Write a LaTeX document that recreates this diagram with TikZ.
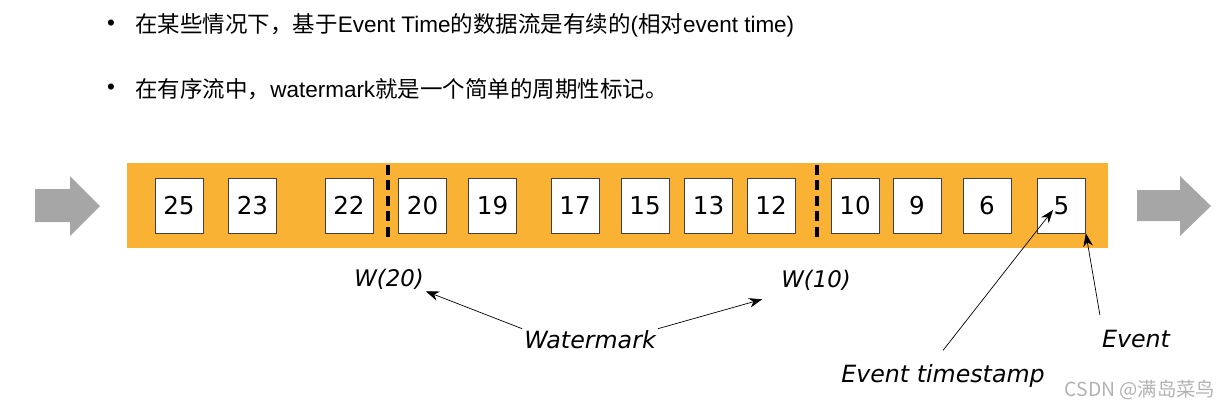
\documentclass[tikz,border=0pt]{standalone}
\usepackage{fontspec}
\setmainfont{Liberation Sans}
\newfontfamily\cjk{Noto Sans CJK SC}
\newfontfamily\verd{DejaVu Sans}
\usetikzlibrary{arrows.meta}
\definecolor{band}{HTML}{F9B233}
\definecolor{flow}{HTML}{A6A6A6}
\tikzset{
  evbox/.style={draw=black!75, fill=white, minimum width=0.96cm, minimum height=1.1cm, inner sep=0pt, font=\verd\fontsize{14}{14}\selectfont},
  lbl/.style={font=\verd\itshape\fontsize{13.5}{14}\selectfont, inner sep=1pt},
  wline/.style={line width=2.1pt, dash pattern=on 0.2cm off 0.11cm},
  bullet/.style={font=\fontsize{12.8}{14}\selectfont, inner sep=0pt}
}
\begin{document}
\begin{tikzpicture}[x=0.02cm, y=-0.02cm, >={Stealth[length=7.5pt,width=5.5pt]}]
\useasboundingbox (0,0) rectangle (1230,409);
\node[bullet] (d1) at (111,25) {•};
\node[bullet, anchor=west] (t1) at (135,25) {{\cjk 在某些情况下，基于}Event Time{\cjk 的数据流是有续的}({\cjk 相对}event time)};
\node[bullet] (d2) at (111,89) {•};
\node[bullet, anchor=west] (t2) at (135,89) {{\cjk 在有序流中，}watermark{\cjk 就是一个简单的周期性标记。}};

\fill[band] (127,163) rectangle (1108,248);
\fill[flow] (35,189) -- (70,189) -- (70,176) -- (100,206) -- (70,236) -- (70,222) -- (35,222) -- cycle;
\fill[flow] (1137,190) -- (1180,190) -- (1180,176) -- (1211,206) -- (1180,236) -- (1180,221) -- (1137,221) -- cycle;
\foreach \v/\x in {25/179,23/252.5,22/349,20/422.5,19/492.5,17/575,15/645,13/708.5,12/771,10/855,9/917,6/987,5/1061.5}
  \node[evbox] (n\v) at (\x,205.5) {\v};
\draw[wline] (388,165) -- (388,242);
\draw[wline] (817,165) -- (817,242);

\node[lbl, font=\verd\itshape\fontsize{13}{14}\selectfont] (w20) at (389,279) {W(20)};
\node[lbl, font=\verd\itshape\fontsize{13}{14}\selectfont] (w10) at (816,280) {W(10)};
\node[lbl] (wmk) at (590,340) {Watermark};
\node[lbl] (ets) at (943,376) {Event timestamp};
\node[lbl] (evt) at (1136,339) {Event};
\node[text=black!30, font=\cjk\fontsize{11}{11}\selectfont] (csdn) at (1140,390) {CSDN @满岛菜鸟};

\draw[->] (wmk.north west) -- (w20.south east);
\draw[->] (wmk.north east) -- ([xshift=-0.34cm,yshift=-0.14cm]w10.south west);
\draw[->] ([yshift=0.24cm]ets.north) -- ([xshift=-0.17cm,yshift=-0.09cm]n5.center);
\draw[->] ([yshift=0.26cm]evt.north west) -- (n5.south east);
\end{tikzpicture}
\end{document}
